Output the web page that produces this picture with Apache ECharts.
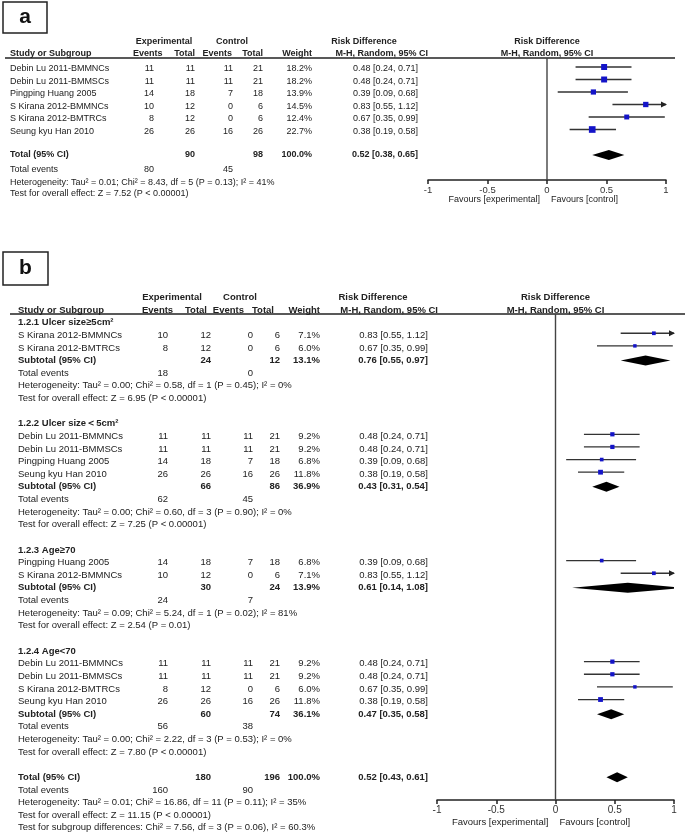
<!DOCTYPE html>
<html><head><meta charset="utf-8">
<script src="https://cdn.jsdelivr.net/npm/echarts@6/dist/echarts.min.js"></script>
<style>html,body{margin:0;padding:0;background:#fff}#chart{width:685px;height:835px}</style>
</head><body><div id="chart"></div>
<script>
// ---------------- DATA ----------------
const studyNames = ["Debin Lu 2011-BMMNCs","Debin Lu 2011-BMMSCs","Pingping Huang 2005","S Kirana 2012-BMMNCs","S Kirana 2012-BMTRCs","Seung kyu Han 2010"];
const expEvents = [11,11,14,10,8,26];
const expTotal  = [11,11,18,12,12,26];
const ctlEvents = [11,11,7,0,0,16];
const ctlTotal  = [21,21,18,6,6,26];
const riskDiff  = [0.48,0.48,0.39,0.83,0.67,0.38];
const ciLow     = [0.24,0.24,0.09,0.55,0.35,0.19];
const ciHigh    = [0.71,0.71,0.68,1.12,0.99,0.58];

// panel a
const weightA = [18.2,18.2,13.9,14.5,12.4,22.7];
const totalEstA = [0.52,0.38,0.65];
const totalNA = [90,98];
const totalEventsA = [80,45];
const hetA = "Heterogeneity: Tau² = 0.01; Chi² = 8.43, df = 5 (P = 0.13); I² = 41%";
const testA = "Test for overall effect: Z = 7.52 (P < 0.00001)";

// panel b
const groupNames = ["1.2.1 Ulcer size≥5cm²","1.2.2 Ulcer size＜5cm²","1.2.3 Age≥70","1.2.4 Age<70"];
const groupStudies = [[3,4],[0,1,2,5],[2,3],[0,1,4,5]];
const groupWeights = [[7.1,6.0],[9.2,9.2,6.8,11.8],[6.8,7.1],[9.2,9.2,6.0,11.8]];
const subExpTotal = [24,66,30,60];
const subCtlTotal = [12,86,24,74];
const subWeight = [13.1,36.9,13.9,36.1];
const subEst = [0.76,0.43,0.61,0.47];
const subLow = [0.55,0.31,0.14,0.35];
const subHigh = [0.97,0.54,1.08,0.58];
const subExpEvents = [18,62,24,56];
const subCtlEvents = [0,45,7,38];
const subHet = [
 "Heterogeneity: Tau² = 0.00; Chi² = 0.58, df = 1 (P = 0.45); I² = 0%",
 "Heterogeneity: Tau² = 0.00; Chi² = 0.60, df = 3 (P = 0.90); I² = 0%",
 "Heterogeneity: Tau² = 0.09; Chi² = 5.24, df = 1 (P = 0.02); I² = 81%",
 "Heterogeneity: Tau² = 0.00; Chi² = 2.22, df = 3 (P = 0.53); I² = 0%"];
const subTest = [
 "Test for overall effect: Z = 6.95 (P < 0.00001)",
 "Test for overall effect: Z = 7.25 (P < 0.00001)",
 "Test for overall effect: Z = 2.54 (P = 0.01)",
 "Test for overall effect: Z = 7.80 (P < 0.00001)"];
const totalEstB = [0.52,0.43,0.61];
const totalNB = [180,196];
const totalEventsB = [160,90];
const hetB = "Heterogeneity: Tau² = 0.01; Chi² = 16.86, df = 11 (P = 0.11); I² = 35%";
const testB = "Test for overall effect: Z = 11.15 (P < 0.00001)";
const subgroupTestB = "Test for subgroup differences: Chi² = 7.56, df = 3 (P = 0.06), I² = 60.3%";

const axisMin = -1, axisMax = 1, axisStep = 0.5;
const favoursLeft = "Favours [experimental]", favoursRight = "Favours [control]";

// ---------------- LAYOUT ----------------
const FONT = "'Liberation Sans', Arial, Helvetica, sans-serif";
const TXT = '#222';
const PA = {gridLeft:428, gridWidth:238, top:41.5, rowH:12.5, rMin:-1, rAxis:10.08, fs:9, nameX:10,
  cols:[154,195,233,263,312,418], lineX:[5,675], lineR:0.32,
  h1:[['Experimental',164,'center'],['Control',232,'center'],['Risk Difference',364,'center']],
  h2:[['Study or Subgroup',10,'left'],['Events',133,'left'],['Total',195,'right'],['Events',232,'right'],['Total',263,'right'],['Weight',312,'right'],['M-H, Random, 95% CI',428,'right']]};
const PB = {gridLeft:437, gridWidth:237, top:297.37, rowH:12.63, rMin:-1, rAxis:38.8, fs:9.5, nameX:18,
  cols:[168,211,253,280,320,428], lineX:[10,685], lineR:0.317,
  h1:[['Experimental',172,'center'],['Control',240,'center'],['Risk Difference',373,'center']],
  h2:[['Study or Subgroup',18,'left'],['Events',142,'left'],['Total',207,'right'],['Events',244,'right'],['Total',274,'right'],['Weight',320,'right'],['M-H, Random, 95% CI',438,'right']]};

function fmtCI(e,l,h){return e.toFixed(2)+' ['+l.toFixed(2)+', '+h.toFixed(2)+']';}
function pct(w){return w.toFixed(1)+'%';}

function headerItems(P, items){
  P.h1.forEach(h=>items.push({r:-1,text:h[0],x:h[1],align:h[2],bold:true}));
  P.h2.forEach(h=>items.push({r:0,text:h[0],x:h[1],align:h[2],bold:true}));
  items.push({r:-1,text:'Risk Difference',zeroOff:0,align:'center',bold:true});
  items.push({r:0,text:'M-H, Random, 95% CI',zeroOff:0,align:'center',bold:true});
  items.push({kind:'hline',r:P.lineR,x1:P.lineX[0],x2:P.lineX[1]});
  items.push({kind:'vline',r:P.lineR,r2:P.rAxis});
}
function studyRow(P, items, marks, i, w, r){
  const c=P.cols;
  items.push({r,text:studyNames[i],x:P.nameX,align:'left'});
  items.push({r,text:String(expEvents[i]),x:c[0],align:'right'});
  items.push({r,text:String(expTotal[i]),x:c[1],align:'right'});
  items.push({r,text:String(ctlEvents[i]),x:c[2],align:'right'});
  items.push({r,text:String(ctlTotal[i]),x:c[3],align:'right'});
  items.push({r,text:pct(w),x:c[4],align:'right'});
  items.push({r,text:fmtCI(riskDiff[i],ciLow[i],ciHigh[i]),x:c[5],align:'right'});
  marks.push([riskDiff[i],ciLow[i],ciHigh[i],r,w]);
}
function pooledRow(P, items, dias, label, nE, nC, w, est, lo, hi, r){
  const c=P.cols;
  items.push({r,text:label,x:P.nameX,align:'left',bold:true});
  items.push({r,text:String(nE),x:c[1],align:'right',bold:true});
  items.push({r,text:String(nC),x:c[3],align:'right',bold:true});
  items.push({r,text:pct(w),x:c[4],align:'right',bold:true});
  items.push({r,text:fmtCI(est,lo,hi),x:c[5],align:'right',bold:true});
  dias.push([est,lo,hi,r]);
}
function eventsRow(P, items, e, c2, r){
  items.push({r,text:'Total events',x:P.nameX,align:'left'});
  items.push({r,text:String(e),x:P.cols[0],align:'right'});
  items.push({r,text:String(c2),x:P.cols[2],align:'right'});
}

// panel a
const itemsA=[], marksA=[], diasA=[];
headerItems(PA, itemsA);
studyNames.forEach((n,i)=>studyRow(PA,itemsA,marksA,i,weightA[i],1.2+i));
pooledRow(PA,itemsA,diasA,'Total (95% CI)',totalNA[0],totalNA[1],100,totalEstA[0],totalEstA[1],totalEstA[2],8.08);
eventsRow(PA,itemsA,totalEventsA[0],totalEventsA[1],9.28);
itemsA.push({r:10.25,text:hetA,x:PA.nameX,align:'left'});
itemsA.push({r:11.2,text:testA,x:PA.nameX,align:'left'});
itemsA.push({r:11.68,text:favoursLeft,zeroOff:-7,align:'right'});
itemsA.push({r:11.68,text:favoursRight,zeroOff:4,align:'left'});

// panel b
const itemsB=[], marksB=[], diasB=[];
headerItems(PB, itemsB);
let r=1;
groupNames.forEach((g,gi)=>{
  itemsB.push({r,text:g,x:PB.nameX,align:'left',bold:true}); r++;
  groupStudies[gi].forEach((si,k)=>{studyRow(PB,itemsB,marksB,si,groupWeights[gi][k],r); r++;});
  pooledRow(PB,itemsB,diasB,'Subtotal (95% CI)',subExpTotal[gi],subCtlTotal[gi],subWeight[gi],subEst[gi],subLow[gi],subHigh[gi],r); r++;
  eventsRow(PB,itemsB,subExpEvents[gi],subCtlEvents[gi],r); r++;
  itemsB.push({r,text:subHet[gi],x:PB.nameX,align:'left'}); r++;
  itemsB.push({r,text:subTest[gi],x:PB.nameX,align:'left'}); r+=2;
});
pooledRow(PB,itemsB,diasB,'Total (95% CI)',totalNB[0],totalNB[1],100,totalEstB[0],totalEstB[1],totalEstB[2],r); r++;
eventsRow(PB,itemsB,totalEventsB[0],totalEventsB[1],r); r++;
itemsB.push({r,text:hetB,x:PB.nameX,align:'left'}); r++;
itemsB.push({r,text:testB,x:PB.nameX,align:'left'}); r++;
itemsB.push({r,text:subgroupTestB,x:PB.nameX,align:'left'});
itemsB.push({r:40.6,text:favoursLeft,zeroOff:-7,align:'right'});
itemsB.push({r:40.6,text:favoursRight,zeroOff:4,align:'left'});

// ---------------- RENDER ----------------
function textRender(items, fs){
  return function(params, api){
    const it = items[params.dataIndex];
    const p = api.coord([0, it.r]);
    if (it.kind==='hline') return {type:'line',shape:{x1:it.x1,y1:p[1],x2:it.x2,y2:p[1]},style:{stroke:'#222',lineWidth:1.4}};
    if (it.kind==='vline'){const p2=api.coord([0,it.r2]);return {type:'line',shape:{x1:p[0],y1:p[1],x2:p2[0],y2:p2[1]},style:{stroke:'#444',lineWidth:1.4}};}
    const x = it.zeroOff!==undefined ? p[0]+it.zeroOff : it.x;
    return {type:'text',style:{text:it.text,x:x,y:p[1],align:it.align,verticalAlign:'middle',
      fontSize:fs,fontFamily:FONT,fontWeight:it.bold?'bold':'normal',fill:TXT}};
  };
}
function ciRender(params, api){
  const est=api.value(0), lo=api.value(1), hi=api.value(2), rr=api.value(3), w=api.value(4);
  const pe=api.coord([est,rr]); const y=pe[1]-2;
  const xl=api.coord([Math.max(lo,axisMin),rr])[0];
  const xh=api.coord([Math.min(hi,axisMax),rr])[0];
  const s=1.4*Math.sqrt(w);
  const ch=[{type:'line',shape:{x1:xl,y1:y,x2:xh,y2:y},style:{stroke:'#333',lineWidth:1.3}}];
  if (hi>axisMax) ch.push({type:'polygon',shape:{points:[[xh+1,y],[xh-5,y-3],[xh-5,y+3]]},style:{fill:'#222'}});
  ch.push({type:'rect',shape:{x:pe[0]-s/2,y:y-s/2,width:s,height:s},style:{fill:'#1414c8'}});
  return {type:'group',children:ch};
}
function diaRender(params, api){
  const est=api.value(0), lo=api.value(1), hi=api.value(2), rr=api.value(3);
  const c=api.coord([est,rr]); const y=c[1]; const hh=5;
  const xl=api.coord([Math.max(lo,axisMin),rr])[0];
  const pts=[[xl,y],[c[0],y-hh]];
  if (hi>axisMax){const x1=api.coord([axisMax,rr])[0];const t=(axisMax-est)/(hi-est);const rem=hh*(1-t);pts.push([x1,y-rem],[x1,y+rem]);}
  else pts.push([api.coord([hi,rr])[0],y]);
  pts.push([c[0],y+hh]);
  return {type:'polygon',shape:{points:pts},style:{fill:'#000'}};
}

function grid(P){return {left:P.gridLeft,width:P.gridWidth,top:P.top,height:(P.rAxis-P.rMin)*P.rowH,containLabel:false};}
function xAx(gi,P){return {gridIndex:gi,type:'value',min:axisMin,max:axisMax,interval:axisStep,
  axisLine:{show:true,onZero:false,lineStyle:{color:'#222',width:1.5}},
  axisTick:{show:true,length:4,lineStyle:{color:'#222',width:1.5}},
  axisLabel:{fontSize:P.fs+0.5,color:'#333',fontFamily:FONT,margin:5},splitLine:{show:false}};}
function yAx(gi,P){return {gridIndex:gi,type:'value',min:P.rMin,max:P.rAxis,inverse:true,show:false};}

function boxGraphic(x,y,w,h,letter){
  return [{type:'rect',shape:{x:x,y:y,width:w,height:h},style:{fill:'#fff',stroke:'#222',lineWidth:1.5},silent:true},
          {type:'text',style:{text:letter,x:x+w/2,y:y+h/2,align:'center',verticalAlign:'middle',fontSize:21,fontWeight:'bold',fontFamily:FONT,fill:'#111'},silent:true}];
}

const chart = echarts.init(document.getElementById('chart'), null, {renderer:'canvas'});
chart.setOption({
  animation:false,
  backgroundColor:'#fff',
  grid:[grid(PA),grid(PB)],
  xAxis:[xAx(0,PA),xAx(1,PB)],
  yAxis:[yAx(0,PA),yAx(1,PB)],
  graphic:[...boxGraphic(3,2,44,31,'a'),...boxGraphic(3,252,45,33,'b')],
  series:[
    {type:'custom',xAxisIndex:0,yAxisIndex:0,clip:false,silent:true,renderItem:textRender(itemsA,PA.fs),data:itemsA.map(it=>[0,it.r]),encode:{x:0,y:1}},
    {type:'custom',xAxisIndex:0,yAxisIndex:0,clip:false,silent:true,renderItem:ciRender,data:marksA,encode:{x:0,y:3}},
    {type:'custom',xAxisIndex:0,yAxisIndex:0,clip:false,silent:true,renderItem:diaRender,data:diasA,encode:{x:0,y:3}},
    {type:'custom',xAxisIndex:1,yAxisIndex:1,clip:false,silent:true,renderItem:textRender(itemsB,PB.fs),data:itemsB.map(it=>[0,it.r]),encode:{x:0,y:1}},
    {type:'custom',xAxisIndex:1,yAxisIndex:1,clip:false,silent:true,renderItem:ciRender,data:marksB,encode:{x:0,y:3}},
    {type:'custom',xAxisIndex:1,yAxisIndex:1,clip:false,silent:true,renderItem:diaRender,data:diasB,encode:{x:0,y:3}}
  ]
});
</script></body></html>
